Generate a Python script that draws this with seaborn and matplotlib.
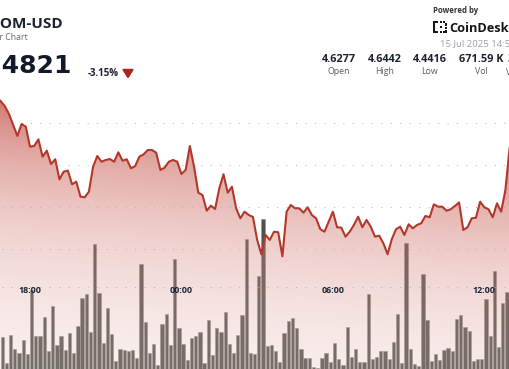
import numpy as np
import pandas as pd
import seaborn as sns
import matplotlib.pyplot as plt
import matplotlib.dates as mdates
from matplotlib.patches import Polygon, Rectangle

# ---- data (10 minute steps) ----
# price, first point 14 Jul 16:40
price = [4.6309, 4.6261, 4.6202, 4.6107, 4.5976, 4.5846, 4.5988, 4.5956, 4.5719, 4.5727,
         4.5806, 4.5600, 4.5671, 4.5513, 4.5569, 4.5331, 4.5422, 4.5434, 4.5272, 4.5303,
         4.5125, 4.5118, 4.5184, 4.5481, 4.5608, 4.5540, 4.5561, 4.5572, 4.5540, 4.5652,
         4.5552, 4.5569, 4.5462, 4.5489, 4.5600, 4.5628, 4.5679, 4.5679, 4.5647, 4.5442,
         4.5469, 4.5540, 4.5561, 4.5540, 4.5394, 4.5442, 4.5727, 4.5481, 4.5172, 4.5145,
         4.4958, 4.5018, 4.4979, 4.5224, 4.5391, 4.5172, 4.5243, 4.4987, 4.4868, 4.4947,
         4.4907, 4.4884, 4.4611, 4.4440, 4.4670, 4.4611, 4.4709, 4.4702, 4.4416, 4.4947,
         4.5026, 4.4987, 4.4987, 4.4935, 4.4999, 4.4907, 4.4868, 4.4738, 4.4709, 4.4828,
         4.4947, 4.4761, 4.4757, 4.4650, 4.4709, 4.4789, 4.4887, 4.4761, 4.4848, 4.4768,
         4.4650, 4.4662, 4.4571, 4.4441, 4.4619, 4.4738, 4.4768, 4.4670, 4.4797, 4.4749,
         4.4789, 4.4809, 4.4896, 4.4880, 4.5034, 4.5006, 4.5006, 4.4958, 4.4975, 4.5014,
         4.5056, 4.4729, 4.4761, 4.4868, 4.4875, 4.5065, 4.4999, 4.4975, 4.4880, 4.5046,
         4.4947, 4.5204, 4.5700, 4.5917]

# volume (K), first bar 14 Jul 16:50
volume = [5.05, 1.2, 5.4, 3.25, 2.75, 4.65, 2.5, 12.15, 5.3, 5.3,
          8.15, 3.05, 9.8, 3.9, 5.25, 3.15, 5.65, 2.65, 6.8, 11.0,
          11.5, 5.8, 19.0, 11.65, 4.15, 9.5, 5.5, 1.5, 3.3, 3.15,
          3.05, 3.15, 1.9, 16.0, 7.3, 2.65, 4.0, 0.9, 7.05, 8.5,
          3.9, 16.75, 6.4, 4.0, 1.65, 4.9, 5.3, 5.8, 1.25, 7.65,
          2.4, 6.4, 5.9, 8.9, 4.05, 2.75, 5.4, 8.4, 19.75, 2.75,
          2.55, 14.3, 22.8, 3.75, 3.9, 3.0, 1.3, 5.65, 7.5, 8.0,
          6.5, 3.3, 1.9, 1.9, 0.65, 0.45, 2.0, 2.65, 1.3, 4.25,
          1.8, 0.9, 6.65, 2.15, 3.3, 1.4, 1.3, 11.5, 1.8, 2.15,
          3.05, 3.0, 1.8, 4.4, 8.5, 1.25, 19.15, 3.3, 1.0, 0.75,
          14.55, 7.65, 1.5, 2.55, 1.65, 3.15, 3.4, 3.05, 7.75, 8.4,
          6.65, 6.05, 1.5, 1.75, 1.75, 10.8, 5.3, 15.05, 3.55, 10.15,
          11.9, 9.15]

grid_levels = [4.45, 4.50, 4.55, 4.60]
tick_times = ["2025-07-14 18:00", "2025-07-15 00:00", "2025-07-15 06:00", "2025-07-15 12:00"]
tick_labels = ["18:00", "00:00", "06:00", "12:00"]

symbol = "ATOM-USD"
subtitle = "24 Hour Chart"
last_price = "4.4821"
change = "-3.15%"
stamp = "15 Jul 2025 14:54"
stat_values = ["4.6277", "4.6442", "4.4416", "671.59 K", "3.04 M"]
stat_labels = ["Open", "High", "Low", "Vol", "Vol (USD)"]

price_t = mdates.date2num(pd.date_range("2025-07-14 16:40", periods=len(price), freq="10min"))
vol_t = mdates.date2num(pd.date_range("2025-07-14 16:50", periods=len(volume), freq="10min"))

W, H = 510, 369
sns.set_style("white")
plt.rcParams["font.family"] = ["Open Sans", "DejaVu Sans"]

fig = plt.figure(figsize=(W / 100, H / 100), dpi=100)
fig.patch.set_facecolor("white")

xlim = (mdates.date2num(pd.Timestamp("2025-07-14 16:48:42")),
        mdates.date2num(pd.Timestamp("2025-07-15 13:01:00")))
ylim = (4.3078, 4.7461)

# volume bars underneath
ax_vol = fig.add_axes([0, 0, 1, 1])
ax_vol.bar(vol_t, volume, width=7.8 / 1440, align="edge", color="#4d524c",
           edgecolor="#8e918b", linewidth=0.4)
ax_vol.set_xlim(xlim)
ax_vol.set_ylim(0.3, 55.65)
ax_vol.axis("off")

# price area on top
ax = fig.add_axes([0, 0, 1, 1], sharex=ax_vol)
ax.set_zorder(1)
ax.patch.set_alpha(0)
ax.set_xlim(xlim)
ax.set_ylim(ylim)

# gradient fill (diagonal), clipped to area under price
yy, xx = np.mgrid[0:H, 0:W] + 0.5
g = yy - 0.08 * xx
s = np.clip(0.68 * np.exp(-(g - 100) / 120), 0, 0.72)
A = np.maximum(0.2 + 0.75 * s, s)
red = np.array([190, 58, 46]) / 255
C = 1 - s[..., None] * (1 - red) / A[..., None]
rgba = np.dstack([C, A])
im = ax.imshow(rgba, extent=(xlim[0], xlim[1], ylim[0], ylim[1]), origin="upper",
               aspect="auto", interpolation="bilinear", zorder=1)
poly = ax.fill_between(price_t, price, ylim[0] - 1, facecolor="none", linewidth=0)
im.set_clip_path(poly.get_paths()[0], ax.transData)

sns.lineplot(x=price_t, y=price, ax=ax, color="#b3372a", linewidth=1.5,
             estimator=None, zorder=3)

# dotted grid
ax.set_yticks(grid_levels)
ax.yaxis.grid(True, color="#b3b3b3", linewidth=0.72, linestyle=(7.5, (1, 8.47)), zorder=2)
ax.set_axisbelow(False)
ax.axhline(4.4056, color="#b3b3b3", linewidth=0.72, linestyle=(7.5, (1, 8.47)), zorder=2)
ax.tick_params(axis="y", length=0, labelleft=False)
for sp in ax.spines.values():
    sp.set_visible(False)
ax.spines["bottom"].set_position(("data", 4.4207))
ax.set_xticks(mdates.date2num(pd.to_datetime(tick_times)), labels=tick_labels,
              fontsize=6.4, fontweight="bold", color="#1c2733")
ax.tick_params(axis="x", direction="in", length=1.6, width=1.3, color="#9a9ea4", pad=8.4)
ax.set_xlabel("")
ax.set_ylabel("")


def fx(px):
    return px / W


def fy(py):
    return 1 - py / H


# header, left
fig.text(fx(63), fy(28), symbol, ha="right", va="baseline", fontsize=11,
         fontweight="bold", color="#1b2330")
fig.text(fx(28), fy(40), subtitle, ha="right", va="baseline", fontsize=6.3, color="#666b73")
fig.text(fx(72), fy(73), last_price, ha="right", va="baseline", fontsize=18,
         fontweight="bold", family="DejaVu Sans", color="#111a28")
fig.text(fx(88), fy(76), change, ha="left", va="baseline", fontsize=7,
         fontweight="bold", color="#1b2330")
fig.add_artist(Polygon([[fx(123), fy(69.5)], [fx(133), fy(69.5)], [fx(128), fy(77.5)]],
                       closed=True, transform=fig.transFigure, color="#a8231b"))

# header, right
fig.text(fx(433), fy(13), "Powered by", ha="left", va="baseline", fontsize=5.6,
         fontweight="bold", color="#333333")
for (x0, y0, w, h) in [(433.5, 21, 2, 12), (433.5, 21, 5, 2), (433.5, 31, 5, 2),
                       (440, 21, 2, 2), (443, 21, 2, 2), (445.5, 23.5, 2, 2),
                       (445.5, 27, 2, 2), (445.5, 30.5, 2, 2), (443, 31, 2, 2),
                       (440, 31, 2, 2), (439.5, 26, 2, 2)]:
    fig.add_artist(Rectangle((fx(x0), fy(y0 + h)), w / W, h / H,
                             transform=fig.transFigure, color="#151515", lw=0))
fig.text(fx(449.5), fy(32.5), "CoinDesk", ha="left", va="baseline", fontsize=9.2,
         fontweight="bold", color="#151515")
fig.text(fx(440), fy(46.5), stamp, ha="left", va="baseline", fontsize=6.8, color="#9aa0a6")

centers = [338.8, 384.5, 429.8, 481.2]
for cx, v, lab in zip(centers, stat_values[:4], stat_labels[:4]):
    fig.text(fx(cx), fy(61.7), v, ha="center", va="baseline", fontsize=7.8,
             fontweight="bold", color="#1b2330")
    fig.text(fx(cx), fy(74.5), lab, ha="center", va="baseline", fontsize=6.3, color="#555d66")
fig.text(fx(508.5), fy(61.7), stat_values[4], ha="left", va="baseline", fontsize=7.8,
         fontweight="bold", color="#1b2330")
fig.text(fx(506.5), fy(74.5), stat_labels[4], ha="left", va="baseline", fontsize=6.3,
         color="#555d66")

fig.savefig("out.png", dpi=100)
